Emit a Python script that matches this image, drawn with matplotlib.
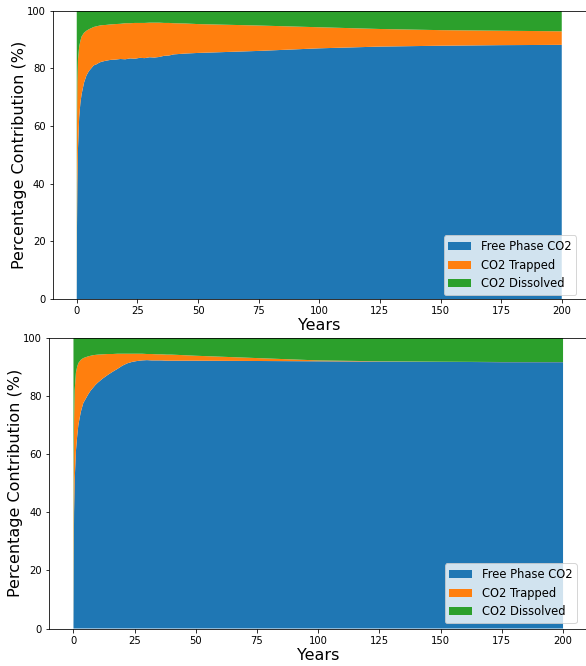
import numpy as np
import matplotlib
matplotlib.use('Agg')
import matplotlib.pyplot as plt

# years (dense near the start of injection)
years = [0, 0.1, 0.25, 0.5, 1, 1.5, 2, 3, 4, 5, 6, 7, 8, 9, 10, 12, 14, 16, 18, 20,
         22, 24, 26, 28, 30, 32, 34, 36, 38, 40, 45, 50, 75, 100, 125, 150, 175, 200]

# case 1 (top panel)
free_1 = [0, 25, 40, 52, 63, 68, 71, 75, 77.5, 79, 80, 81, 81.3, 81.8, 82.2, 82.6, 82.9, 83.0, 83.2, 83.1,
          83.4, 83.3, 83.6, 83.5, 83.8, 83.7, 83.9, 84.3, 84.4, 84.8, 85.1, 85.3, 86.0, 86.9, 87.5, 87.8, 88.0, 88.1]
free_trapped_1 = [0, 60, 75, 83, 87.5, 89.5, 91, 92.3, 93, 93.5, 93.9, 94.3, 94.5, 94.7, 94.9, 95.0, 95.2, 95.3, 95.4, 95.6,
                  95.6, 95.7, 95.7, 95.7, 95.8, 95.8, 95.8, 95.7, 95.7, 95.6, 95.5, 95.3, 94.8, 94.2, 93.6, 93.2, 93.0, 92.8]

# case 2 (bottom panel)
free_2 = [0, 20, 40, 51, 61, 66, 70, 74.5, 77.5, 79, 80.5, 81.8, 82.8, 83.8, 84.6, 86, 87.2, 88.3, 89.3, 90.4,
          91.2, 91.7, 92.0, 92.2, 92.3, 92.2, 92.2, 92.2, 92.1, 92.1, 92.1, 92.1, 92.0, 91.9, 91.8, 91.7, 91.6, 91.6]
free_trapped_2 = [0, 55, 72, 82, 88, 90, 91.3, 92.4, 93, 93.3, 93.6, 93.8, 94.0, 94.1, 94.2, 94.3, 94.4, 94.4, 94.5, 94.5,
                  94.5, 94.5, 94.5, 94.5, 94.4, 94.4, 94.3, 94.3, 94.2, 94.2, 94.0, 93.8, 93.0, 92.2, 91.9, 91.75, 91.65, 91.65]

labels = ['Free Phase CO2', 'CO2 Trapped', 'CO2 Dissolved']

fig = plt.figure(figsize=(586 / 72, 666 / 72), dpi=72)
ax1 = fig.add_axes([0.0896, 0.551, 0.9104, 0.4332])
ax2 = fig.add_axes([0.0836, 0.0563, 0.919, 0.4366])

panels = [(ax1, free_1, free_trapped_1, (0.981, 0.014)),
          (ax2, free_2, free_trapped_2, (0.98, 0.019))]

for ax, free, ft, anchor in panels:
    free = np.array(free)
    ft = np.array(ft)
    trapped = ft - free
    dissolved = 100 - ft
    ax.stackplot(years, free, trapped, dissolved, labels=labels)
    ax.set_ylim(0, 100)
    ax.set_xlim(-10, 210)
    ax.set_xticks([0, 25, 50, 75, 100, 125, 150, 175, 200])
    ax.set_xlabel('Years', fontsize=16, labelpad=2)
    ax.set_ylabel('Percentage Contribution (%)', fontsize=16, labelpad=0)
    ax.legend(loc='lower right', fontsize=11.5, bbox_to_anchor=anchor, borderaxespad=0)
    ax.spines['right'].set_visible(False)

fig.savefig('out.png', dpi=72)
